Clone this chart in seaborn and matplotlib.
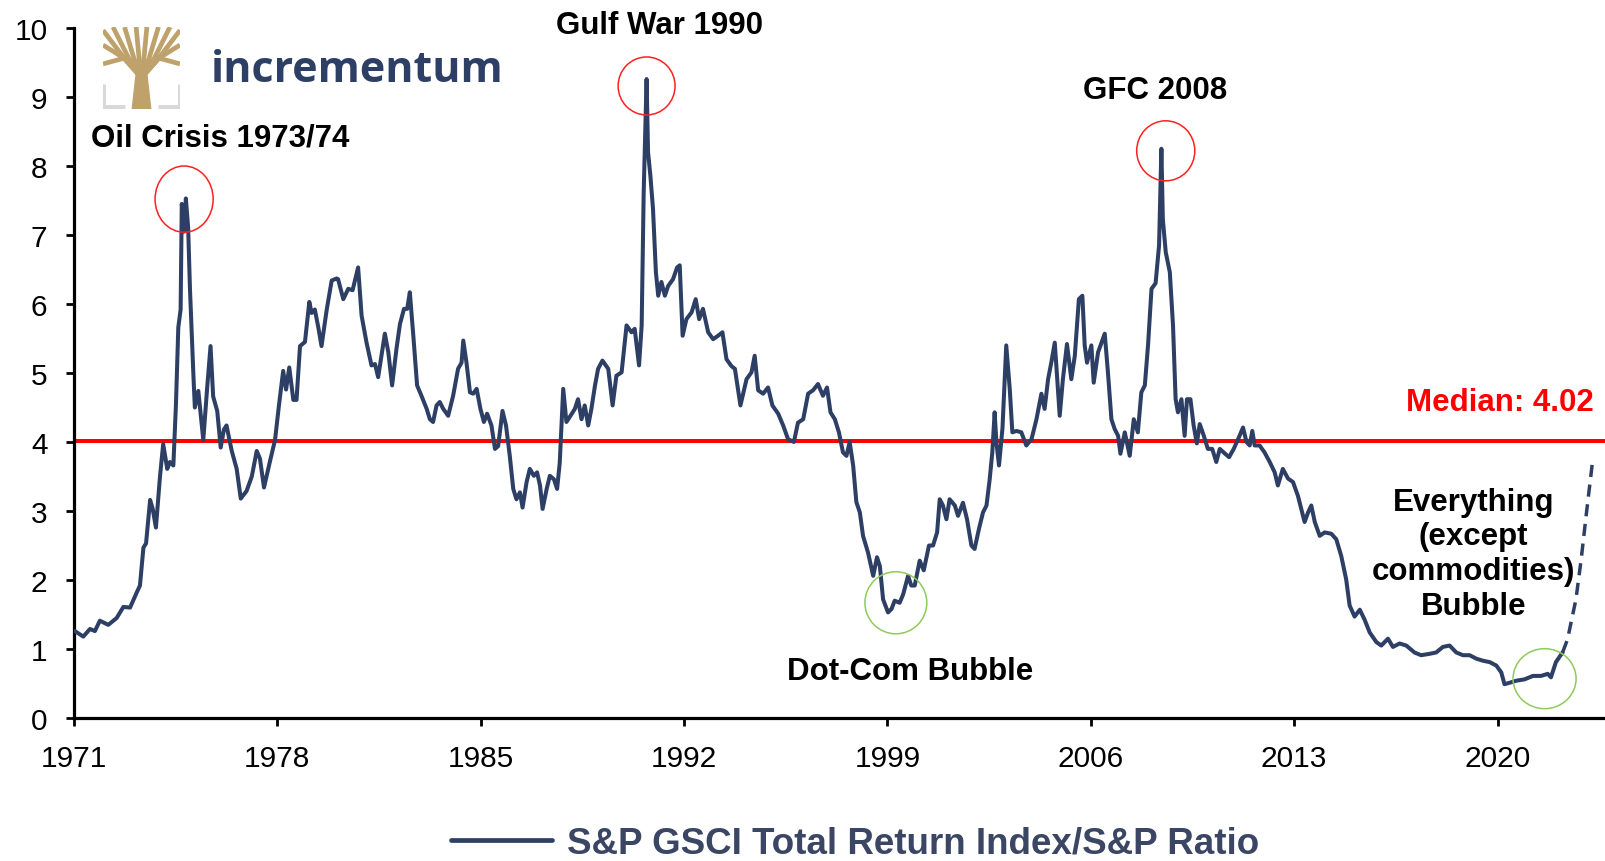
import numpy as np
import pandas as pd
import matplotlib
matplotlib.use("Agg")
import matplotlib.pyplot as plt
import seaborn as sns
from matplotlib.patches import Ellipse, Polygon

# ---------------------------------
# Data
# ---------------------------------
years = [
    1971.03, 1971.32, 1971.55, 1971.72, 1971.89, 1972.18, 1972.47, 1972.70, 1972.93, 1973.16,
    1973.27, 1973.39, 1973.48, 1973.62, 1973.71, 1973.82, 1973.96, 1974.07, 1974.21, 1974.30,
    1974.42, 1974.51, 1974.59, 1974.67, 1974.71, 1974.79, 1974.85, 1974.93, 1974.99, 1975.11,
    1975.16, 1975.28, 1975.45, 1975.59, 1975.70, 1975.79, 1975.93, 1976.05, 1976.16, 1976.25,
    1976.43, 1976.60, 1976.74, 1976.94, 1977.12, 1977.29, 1977.40, 1977.54, 1977.74, 1977.92,
    1978.06, 1978.20, 1978.30, 1978.41, 1978.55, 1978.66, 1978.78, 1978.95, 1979.10, 1979.18,
    1979.29, 1979.41, 1979.52, 1979.70, 1979.87, 1980.04, 1980.09, 1980.27, 1980.44, 1980.59,
    1980.78, 1980.90, 1981.07, 1981.24, 1981.36, 1981.47, 1981.70, 1981.82, 1981.95, 1982.10,
    1982.22, 1982.36, 1982.47, 1982.56, 1982.68, 1982.81, 1982.96, 1983.14, 1983.25, 1983.36,
    1983.48, 1983.59, 1983.71, 1983.88, 1984.05, 1984.22, 1984.34, 1984.40, 1984.51, 1984.63,
    1984.74, 1984.86, 1984.99, 1985.11, 1985.22, 1985.37, 1985.49, 1985.60, 1985.75, 1985.87,
    1986.00, 1986.12, 1986.23, 1986.35, 1986.44, 1986.58, 1986.69, 1986.83, 1986.94, 1987.04,
    1987.13, 1987.27, 1987.38, 1987.52, 1987.63, 1987.72, 1987.84, 1987.95, 1988.09, 1988.24,
    1988.35, 1988.47, 1988.58, 1988.70, 1988.81, 1988.93, 1989.04, 1989.19, 1989.39, 1989.54,
    1989.67, 1989.85, 1990.02, 1990.19, 1990.30, 1990.45, 1990.54, 1990.61, 1990.71, 1990.76,
    1990.84, 1990.93, 1991.03, 1991.11, 1991.22, 1991.34, 1991.45, 1991.62, 1991.76, 1991.85,
    1991.95, 1992.08, 1992.26, 1992.40, 1992.52, 1992.65, 1992.83, 1993.00, 1993.17, 1993.32,
    1993.46, 1993.63, 1993.75, 1993.94, 1994.15, 1994.32, 1994.43, 1994.55, 1994.72, 1994.89,
    1995.04, 1995.24, 1995.41, 1995.58, 1995.78, 1995.92, 1996.10, 1996.27, 1996.44, 1996.61,
    1996.78, 1996.92, 1997.04, 1997.19, 1997.33, 1997.47, 1997.59, 1997.70, 1997.82, 1997.93,
    1998.05, 1998.16, 1998.33, 1998.51, 1998.64, 1998.74, 1998.85, 1999.02, 1999.14, 1999.25,
    1999.42, 1999.54, 1999.71, 1999.82, 1999.94, 2000.11, 2000.25, 2000.43, 2000.57, 2000.71,
    2000.80, 2000.91, 2001.03, 2001.14, 2001.32, 2001.43, 2001.60, 2001.74, 2001.89, 2002.00,
    2002.15, 2002.29, 2002.41, 2002.52, 2002.61, 2002.69, 2002.75, 2002.84, 2002.96, 2003.09,
    2003.21, 2003.30, 2003.44, 2003.61, 2003.78, 2003.96, 2004.13, 2004.30, 2004.41, 2004.53,
    2004.64, 2004.76, 2004.93, 2005.04, 2005.18, 2005.33, 2005.45, 2005.59, 2005.71, 2005.79,
    2005.87, 2006.02, 2006.10, 2006.25, 2006.48, 2006.59, 2006.71, 2006.82, 2006.94, 2007.02,
    2007.17, 2007.34, 2007.48, 2007.62, 2007.74, 2007.86, 2007.97, 2008.09, 2008.23, 2008.35,
    2008.43, 2008.48, 2008.58, 2008.72, 2008.83, 2008.92, 2009.00, 2009.12, 2009.23, 2009.31,
    2009.43, 2009.54, 2009.65, 2009.75, 2009.89, 2010.03, 2010.18, 2010.32, 2010.44, 2010.57,
    2010.76, 2010.92, 2011.10, 2011.24, 2011.36, 2011.47, 2011.56, 2011.64, 2011.81, 2011.98,
    2012.16, 2012.33, 2012.44, 2012.61, 2012.79, 2012.96, 2013.13, 2013.36, 2013.48, 2013.59,
    2013.71, 2013.88, 2014.05, 2014.28, 2014.45, 2014.62, 2014.79, 2014.91, 2015.08, 2015.26,
    2015.43, 2015.60, 2015.83, 2016.00, 2016.23, 2016.40, 2016.63, 2016.86, 2017.14, 2017.37,
    2017.66, 2017.89, 2018.12, 2018.35, 2018.58, 2018.81, 2019.04, 2019.27, 2019.50, 2019.73,
    2019.96, 2020.13, 2020.24, 2020.41, 2020.64, 2020.93, 2021.22, 2021.50, 2021.73, 2021.84,
    2022.01, 2022.24,
]
ratio = [
    1.26, 1.18, 1.29, 1.26, 1.41, 1.35, 1.45, 1.61, 1.60, 1.82,
    1.92, 2.47, 2.53, 3.16, 3.03, 2.76, 3.50, 3.97, 3.61, 3.71,
    3.66, 4.55, 5.66, 5.92, 7.45, 7.05, 7.53, 7.10, 6.24, 4.97,
    4.50, 4.74, 4.03, 4.82, 5.39, 4.66, 4.45, 3.92, 4.18, 4.24,
    3.87, 3.61, 3.18, 3.29, 3.50, 3.87, 3.76, 3.34, 3.71, 4.03,
    4.55, 5.03, 4.76, 5.08, 4.61, 4.61, 5.39, 5.45, 6.03, 5.87,
    5.92, 5.66, 5.39, 5.92, 6.34, 6.37, 6.36, 6.07, 6.22, 6.20,
    6.53, 5.83, 5.44, 5.11, 5.13, 4.94, 5.57, 5.30, 4.82, 5.35,
    5.71, 5.93, 5.93, 6.17, 5.54, 4.82, 4.67, 4.48, 4.33, 4.29,
    4.53, 4.58, 4.48, 4.38, 4.67, 5.06, 5.15, 5.47, 5.15, 4.72,
    4.70, 4.77, 4.48, 4.29, 4.41, 4.24, 3.90, 3.94, 4.45, 4.24,
    3.80, 3.32, 3.17, 3.27, 3.05, 3.42, 3.61, 3.51, 3.56, 3.37,
    3.03, 3.32, 3.51, 3.46, 3.32, 3.70, 4.77, 4.29, 4.38, 4.48,
    4.62, 4.33, 4.53, 4.24, 4.48, 4.81, 5.06, 5.18, 5.06, 4.53,
    4.96, 5.01, 5.69, 5.59, 5.64, 5.11, 5.69, 7.62, 9.26, 8.20,
    7.86, 7.38, 6.46, 6.12, 6.32, 6.12, 6.26, 6.36, 6.53, 6.56,
    5.54, 5.78, 5.88, 6.07, 5.78, 5.93, 5.59, 5.49, 5.54, 5.59,
    5.20, 5.10, 5.06, 4.53, 4.91, 5.01, 5.25, 4.75, 4.70, 4.79,
    4.53, 4.41, 4.24, 4.04, 4.00, 4.28, 4.33, 4.70, 4.75, 4.84,
    4.67, 4.79, 4.43, 4.33, 4.14, 3.85, 3.80, 4.00, 3.66, 3.13,
    2.98, 2.64, 2.40, 2.06, 2.33, 2.20, 1.72, 1.53, 1.58, 1.70,
    1.67, 1.79, 2.06, 1.92, 1.92, 2.28, 2.14, 2.50, 2.50, 2.69,
    3.17, 3.08, 2.88, 3.17, 3.08, 2.93, 3.12, 2.88, 2.50, 2.45,
    2.74, 2.98, 3.08, 3.46, 3.85, 4.43, 4.00, 3.66, 4.20, 5.40,
    4.77, 4.14, 4.16, 4.14, 3.95, 4.04, 4.33, 4.70, 4.48, 4.91,
    5.15, 5.44, 4.38, 4.91, 5.42, 4.91, 5.25, 6.07, 6.12, 5.40,
    5.15, 5.40, 4.86, 5.30, 5.57, 5.01, 4.33, 4.19, 4.09, 3.83,
    4.14, 3.80, 4.33, 4.14, 4.72, 4.82, 5.40, 6.22, 6.30, 6.85,
    8.25, 7.23, 6.75, 6.46, 5.69, 4.62, 4.43, 4.62, 4.09, 4.62,
    4.62, 4.24, 3.98, 4.26, 4.09, 3.90, 3.90, 3.71, 3.90, 3.85,
    3.78, 3.90, 4.07, 4.21, 4.00, 3.95, 4.16, 3.95, 3.95, 3.85,
    3.71, 3.56, 3.37, 3.61, 3.47, 3.42, 3.22, 2.84, 2.98, 3.08,
    2.84, 2.64, 2.69, 2.67, 2.59, 2.35, 2.01, 1.63, 1.47, 1.57,
    1.42, 1.24, 1.10, 1.05, 1.15, 1.03, 1.08, 1.05, 0.95, 0.91,
    0.93, 0.95, 1.03, 1.05, 0.95, 0.91, 0.91, 0.86, 0.83, 0.81,
    0.76, 0.66, 0.49, 0.51, 0.54, 0.56, 0.61, 0.61, 0.64, 0.59,
    0.81, 0.95,
]

# dashed projection at the end
proj_years = [2022.24, 2022.41, 2022.70, 2022.88, 2023.05, 2023.28]
proj_ratio = [0.95, 1.14, 1.72, 2.30, 2.93, 3.75]

median_value = 4.02
xtick_years = [1971, 1978, 1985, 1992, 1999, 2006, 2013, 2020]

# events: label, circle centre (year, ratio), circle size (years, ratio), colour
events = [
    ("Oil Crisis 1973/74", 1974.79, 7.52, 2.0, 0.96, "#FF2020"),
    ("Gulf War 1990", 1990.71, 9.16, 1.96, 0.84, "#FF2020"),
    ("GFC 2008", 2008.58, 8.22, 2.0, 0.87, "#FF2020"),
    ("Dot-Com Bubble", 1999.29, 1.67, 2.13, 0.90, "#8FCB5A"),
    ("Everything bubble", 2021.62, 0.57, 2.17, 0.87, "#8FCB5A"),
]

df = pd.DataFrame({"year": years, "ratio": ratio})
proj = pd.DataFrame({"year": proj_years, "ratio": proj_ratio})

# -----------------------------
# Plot
# -----------------------------
sns.set_theme(style="ticks")
plt.rcParams["font.family"] = ["Liberation Sans", "DejaVu Sans"]

navy = "#2E3F66"

fig = plt.figure(figsize=(16.05, 8.62), dpi=100)
ax = fig.add_axes([74 / 1605, 1 - 719 / 862, 1 - 74 / 1605, (719 - 29) / 862])

ax.axhline(median_value, color="#FF0000", lw=2.9, zorder=1)

sns.lineplot(data=df, x="year", y="ratio", ax=ax, color=navy, lw=2.9,
             label="S&P GSCI Total Return Index/S&P Ratio", zorder=3)
sns.lineplot(data=proj, x="year", y="ratio", ax=ax, color=navy, lw=2.5,
             linestyle=(0, (3.5, 2.2)), zorder=3, legend=False)

for name, cx, cy, w, h, col in events:
    ax.add_patch(Ellipse((cx, cy), w, h, fill=False, edgecolor=col, lw=1.1, zorder=4))

ax.set_xlim(1971, 2023.7)
ax.set_ylim(0, 10)
ax.set_xticks(xtick_years)
ax.set_yticks(range(0, 11))
ax.set_xlabel("")
ax.set_ylabel("")

sns.despine(ax=ax, top=True, right=True)
for side in ["left", "bottom"]:
    ax.spines[side].set_linewidth(2.3)
    ax.spines[side].set_color("black")
ax.tick_params(axis="both", direction="out", length=6, width=2.0, color="black",
               labelsize=21.5, labelcolor="black")
ax.tick_params(axis="y", pad=13)
ax.tick_params(axis="x", pad=13)

# annotations
bold = dict(fontweight="bold", color="black", fontsize=22.5, ha="center", va="center")
ax.text(1976.02, 8.42, "Oil Crisis 1973/74", **bold)
ax.text(1991.17, 10.05, "Gulf War 1990", clip_on=False, **bold)
ax.text(2008.2, 9.1, "GFC 2008", **bold)
ax.text(1999.77, 0.68, "Dot-Com Bubble", **bold)
ax.text(2019.18, 2.38, "Everything\n(except\ncommodities)\nBubble", linespacing=1.2, **bold)
ax.text(2023.3, 4.58, "Median: 4.02", color="#FF0000", fontsize=22.5,
        fontweight="bold", ha="right", va="center")

leg = ax.legend(loc="center", bbox_to_anchor=(855 / 1605, 18 / 862),
                bbox_transform=fig.transFigure, frameon=False,
                prop={"weight": "bold", "size": 26.5}, handlelength=2.75,
                handletextpad=0.4, borderpad=0.1)
for t in leg.get_texts():
    t.set_color("#3A4663")
for h in leg.legend_handles:
    h.set_linewidth(3.4)

# incrementum logo
logo = fig.add_axes([103 / 1605, 1 - 110 / 862, 77 / 1605, 82 / 862])
logo.set_xlim(0, 1)
logo.set_ylim(0, 1)
logo.axis("off")
gold = "#BFA26B"
grey = "#D8D8D8"
logo.plot([0.0, 0.0, 0.28], [0.3, 0.02, 0.02], color=grey, lw=3.5, solid_capstyle="butt")
logo.plot([1.0, 1.0, 0.72], [0.3, 0.02, 0.02], color=grey, lw=3.5, solid_capstyle="butt")
logo.add_patch(Polygon([[0.38, 0.0], [0.62, 0.0], [0.57, 0.42], [0.43, 0.42]],
                       closed=True, color=gold))
tips = [(0.0, 0.96), (0.13, 1.0), (0.28, 1.0), (0.43, 1.0), (0.57, 1.0), (0.72, 1.0),
        (0.87, 1.0), (1.0, 0.96), (0.0, 0.78), (1.0, 0.78), (0.0, 0.55), (1.0, 0.55)]
for tx, ty in tips:
    mx = 0.5 + (tx - 0.5) * 0.45
    logo.plot([0.5, mx, tx], [0.38, 0.62, ty], color=gold, lw=3.4, solid_capstyle="butt")
fig.text(211 / 1605, 1 - 70 / 862, "incrementum", color="#2E3F66", fontsize=31,
         fontweight="bold", family=["Open Sans", "DejaVu Sans"], ha="left", va="center")

plt.savefig("out.png", dpi=100)
plt.close()
